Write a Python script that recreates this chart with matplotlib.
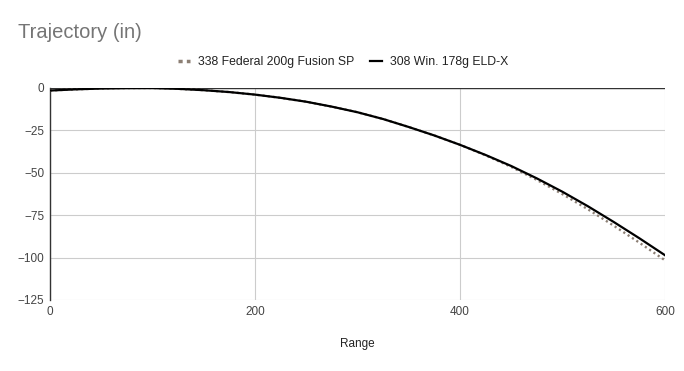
import matplotlib
matplotlib.use("Agg")
import matplotlib.pyplot as plt

plt.rcParams['font.family'] = ['Liberation Sans', 'DejaVu Sans']

# range (yd) and drop (in)
ranges = [0, 25, 50, 75, 100, 125, 150, 175, 200, 225, 250, 275, 300,
          325, 350, 375, 400, 425, 450, 475, 500, 525, 550, 575, 600]
fed338 = [-1.5, -0.8, -0.3, -0.05, 0, -0.5, -1.3, -2.4, -3.9, -5.8, -8.1, -11.0, -14.3,
          -18.3, -23.0, -28.0, -33.5, -39.7, -46.5, -54.2, -62.6, -71.6, -81.2, -91.2, -101.6]
win308 = [-1.5, -0.8, -0.3, -0.05, 0, -0.5, -1.3, -2.4, -3.9, -5.8, -8.1, -11.0, -14.3,
          -18.3, -23.0, -28.0, -33.5, -39.5, -46.0, -53.3, -61.2, -69.8, -79.0, -88.6, -98.6]

yticks = [0, -25, -50, -75, -100, -125]
xticks = [0, 200, 400, 600]

fig = plt.figure(figsize=(6.84, 3.71), dpi=100)
ax = fig.add_axes([50/684, 71/371, 615/684, 212/371])

ax.plot(ranges, fed338, color='#8c7f74', lw=1.7, linestyle=(0, (0.9, 1.3)),
        label='338 Federal 200g Fusion SP', zorder=3)
ax.plot(ranges, win308, color='black', lw=1.6, label='308 Win. 178g ELD-X', zorder=4)

ax.set_xlim(0, 600)
ax.set_ylim(-125, 0)
ax.set_xticks(xticks)
ax.set_yticks(yticks)
ax.grid(True, color='#cccccc', lw=0.8)
ax.set_axisbelow(True)
for s in ['top', 'right', 'bottom']:
    ax.spines[s].set_visible(False)
ax.spines['left'].set_color('#333333')
ax.spines['left'].set_linewidth(1)
ax.axhline(0, color='#333333', lw=1, zorder=2)
ax.tick_params(length=0, labelsize=8.5, labelcolor='#444444', pad=4)

ax.set_xlabel('Range', fontsize=8.5, color='#222222', labelpad=15)

fig.text(18/684, 1 - 33/371, 'Trajectory (in)', fontsize=14.5, color='#757575', va='center')
leg = fig.legend(loc='center', bbox_to_anchor=(343/684, 1 - 62/371), ncol=2, frameon=False,
                 fontsize=8.8, handlelength=1.0, columnspacing=1.3, handletextpad=0.6)
for t in leg.get_texts():
    t.set_color('#222222')
# two square dots for the dotted series, like the original legend
leg.get_lines()[0].set_linestyle((0, (1.2, 1.2)))
leg.get_lines()[0].set_linewidth(2.5)
leg.get_lines()[0].set_dash_capstyle('butt')

fig.savefig('out.png', dpi=100)
